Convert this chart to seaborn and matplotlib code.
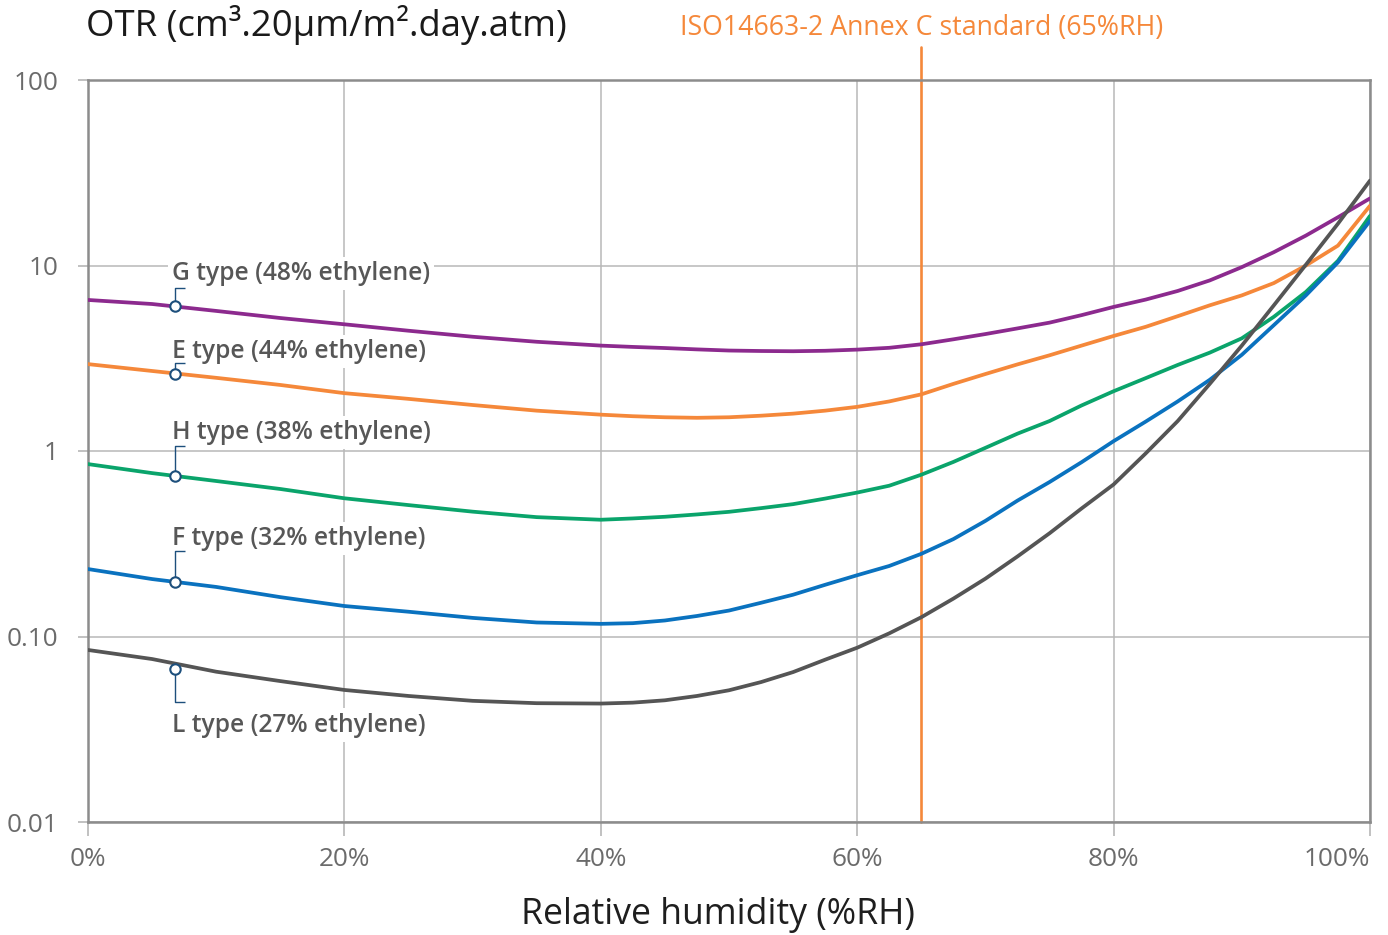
import numpy as np
import pandas as pd
import matplotlib
matplotlib.use("Agg")
import matplotlib.pyplot as plt
import matplotlib.transforms as mtransforms
from matplotlib.ticker import FixedLocator, FixedFormatter, NullLocator
import seaborn as sns

# ---------------- data ----------------
rh = [0, 5, 10, 15, 20, 25, 30, 35, 40, 42.5, 45, 47.5, 50, 52.5, 55, 57.5, 60, 62.5, 65,
      67.5, 70, 72.5, 75, 77.5, 80, 82.5, 85, 87.5, 90, 92.5, 95, 97.5, 100]
g_type = [6.52, 6.20, 5.69, 5.21, 4.82, 4.45, 4.13, 3.88, 3.70, 3.64, 3.59, 3.53, 3.48, 3.46, 3.45, 3.47, 3.52,
          3.60, 3.76, 4.00, 4.27, 4.58, 4.92, 5.40, 5.98, 6.55, 7.29, 8.31, 9.80, 11.8, 14.5, 18.2, 23.0]
e_type = [2.94, 2.70, 2.48, 2.27, 2.05, 1.91, 1.77, 1.65, 1.57, 1.54, 1.52, 1.51, 1.52, 1.55, 1.59, 1.65, 1.73,
          1.85, 2.02, 2.30, 2.60, 2.93, 3.28, 3.70, 4.17, 4.67, 5.33, 6.10, 6.90, 8.04, 10.0, 12.8, 21.0]
h_type = [0.850, 0.760, 0.689, 0.624, 0.556, 0.511, 0.471, 0.440, 0.426, 0.433, 0.442, 0.455, 0.470, 0.492, 0.517,
          0.554, 0.597, 0.650, 0.745, 0.873, 1.04, 1.24, 1.45, 1.76, 2.10, 2.47, 2.91, 3.39, 4.05, 5.29, 7.20, 10.6, 18.5]
f_type = [0.231, 0.204, 0.185, 0.163, 0.146, 0.136, 0.126, 0.119, 0.117, 0.118, 0.122, 0.129, 0.138, 0.152, 0.168,
          0.190, 0.214, 0.240, 0.279, 0.335, 0.420, 0.540, 0.680, 0.870, 1.13, 1.44, 1.85, 2.42, 3.30, 4.77, 6.90, 10.4, 17.4]
l_type = [0.0846, 0.0756, 0.0646, 0.0575, 0.0515, 0.0478, 0.0450, 0.0437, 0.0435, 0.0440, 0.0453, 0.0478, 0.0513,
          0.0568, 0.0643, 0.0750, 0.0870, 0.104, 0.127, 0.160, 0.205, 0.270, 0.360, 0.490, 0.660, 0.970, 1.45,
          2.30, 3.70, 6.10, 10.1, 16.8, 28.7]

grades = ["G", "E", "H", "F", "L"]
grade_labels = ["G type (48% ethylene)", "E type (44% ethylene)", "H type (38% ethylene)",
                "F type (32% ethylene)", "L type (27% ethylene)"]
series = [g_type, e_type, h_type, f_type, l_type]

marker_rh = 6.8
marker_vals = [6.05, 2.60, 0.733, 0.197, 0.0668]

standard_rh = 65
standard_label = "ISO14663-2 Annex C standard (65%RH)"

y_ticks = [0.01, 0.1, 1, 10, 100]
y_tick_labels = ["0.01", "0.10", "1", "10", "100"]
x_ticks = [0, 20, 40, 60, 80, 100]
x_tick_labels = ["0%", "20%", "40%", "60%", "80%", "100%"]

title = "OTR (cm³.20μm/m².day.atm)"
xlabel = "Relative humidity (%RH)"

# ---------------- style ----------------
colors = {"G": "#8c2a8e", "E": "#f5883a", "H": "#0aa46b", "F": "#0a72bf", "L": "#555555"}
orange = "#f5883a"
marker_edge = "#1d4f7c"

sns.set_theme(style="white")
plt.rcParams["font.family"] = ["Open Sans", "DejaVu Sans"]

W, H = 1388, 935
fig = plt.figure(figsize=(W / 100, H / 100), dpi=100)
L, R, T, B = 88, 1370, 80, 822
ax = fig.add_axes([L / W, 1 - B / H, (R - L) / W, (B - T) / H])

df = pd.DataFrame({
    "rh": np.tile(rh, len(grades)),
    "otr": np.concatenate(series),
    "grade": np.repeat(grades, len(rh)),
})

sns.lineplot(data=df, x="rh", y="otr", hue="grade", hue_order=grades, palette=colors,
             linewidth=2.7, legend=False, estimator=None, sort=True, ax=ax, zorder=3)
for ln in ax.get_lines():
    ln.set_solid_joinstyle("round")

ax.set_yscale("log")
ax.set_xlim(0, 100)
ax.set_ylim(0.01, 100)
ax.autoscale(False)

ax.yaxis.set_major_locator(FixedLocator(y_ticks))
ax.yaxis.set_major_formatter(FixedFormatter(y_tick_labels))
ax.yaxis.set_minor_locator(NullLocator())
ax.xaxis.set_major_locator(FixedLocator(x_ticks))
ax.xaxis.set_major_formatter(FixedFormatter(x_tick_labels))

ax.grid(True, which="major", color="#b8b8b8", linewidth=1.1)
ax.set_axisbelow(True)
for s in ax.spines.values():
    s.set_color("#8c8c8c")
    s.set_linewidth(1.8)
    s.set_visible(True)

ax.tick_params(axis="y", length=7.5, width=1.1, color="#b0b0b0", pad=14,
               labelsize=18.8, labelcolor="#6b6b6b", left=True)
ax.tick_params(axis="x", length=10, width=1.1, color="#b0b0b0", pad=8,
               labelsize=18.8, labelcolor="#6b6b6b", bottom=True)
ax.get_xticklabels()[-1].set_horizontalalignment("right")

ax.set_xlabel(xlabel, fontsize=25.7, color="#1e1e1e", va="center")
ax.xaxis.set_label_coords((718 - L) / (R - L), (B - 915) / (B - T))
ax.set_ylabel("")

# standard line
ax.axvline(standard_rh, ymin=0, ymax=(B - 47) / (B - T), color=orange, lw=1.9,
           clip_on=False, zorder=2)
ax.text(standard_rh, 1 - 28 / H, standard_label,
        transform=mtransforms.blended_transform_factory(ax.transData, fig.transFigure),
        ha="center", va="center", fontsize=19.3, color=orange)

fig.text(86 / W, 1 - 25 / H, title, ha="left", va="center", fontsize=26.3, color="#1a1a1a")

# markers + brackets + labels
bracket_dy = [18, 11, 30, 31, -33]      # pixel offsets of bracket end (up positive)
text_dy = [32.5, 22.5, 43.5, 43.5, -56] # pixel offsets of label centres
fig.canvas.draw()
inv = ax.transData.inverted()
for val, lab, bdy, tdy in zip(marker_vals, grade_labels, bracket_dy, text_dy):
    px, py = ax.transData.transform((marker_rh, val))
    start = py + (4.5 if bdy > 0 else -4.5)
    pts = np.array([[px, start], [px, py + bdy], [px + 10, py + bdy]])
    d = inv.transform(pts)
    ax.plot(d[:, 0], d[:, 1], color=marker_edge, lw=1.0, zorder=5, solid_capstyle="butt")
    ax.plot([marker_rh], [val], marker="o", ms=7.5, mfc="white", mec=marker_edge, mew=1.5,
            zorder=6, linestyle="none")
    tx, ty = inv.transform((px - 3, py + tdy))
    ax.text(tx, ty, lab, ha="left", va="center", fontsize=17.7, fontweight="semibold",
            color="#575757", zorder=2.5,
            bbox=dict(facecolor="white", edgecolor="none", pad=3))

fig.savefig("out.png", dpi=100)
